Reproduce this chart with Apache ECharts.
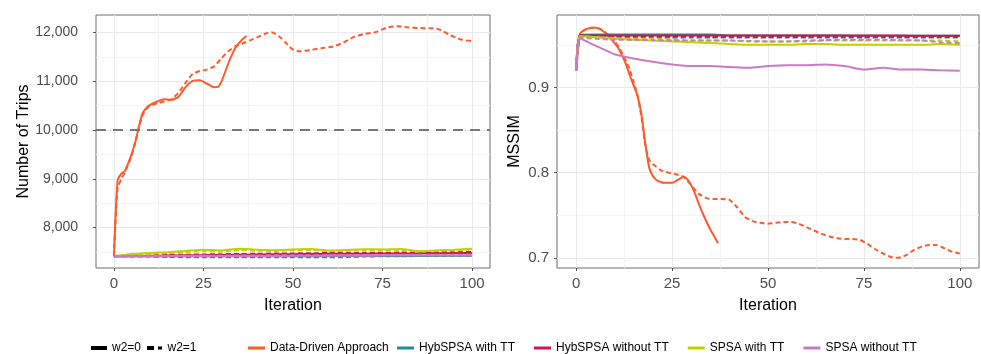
<!DOCTYPE html>
<html>
<head>
<meta charset="utf-8">
<script src="https://cdn.jsdelivr.net/npm/echarts@6/dist/echarts.min.js"></script>
<style>
  html, body { margin: 0; padding: 0; background: #fff; }
  #chart { width: 981px; height: 354px; }
</style>
</head>
<body>
<div id="chart"></div>
<script>
// ---- data ----
const methods = ['Data-Driven Approach', 'HybSPSA with TT', 'HybSPSA without TT', 'SPSA with TT', 'SPSA without TT'];
const methodColors = ['#FF5A2B', '#1B8F96', '#D0154F', '#BDD200', '#C97BC7'];

const xTicks = [0, 25, 50, 75, 100];
const xMinor = [12.5, 37.5, 62.5, 87.5];
const tripTicks = [8000, 9000, 10000, 11000, 12000];
const tripMinor = [7500, 8500, 9500, 10500, 11500];
const mssimTicks = [0.7, 0.8, 0.9];
const mssimMinor = [0.75, 0.85, 0.95];
const tripReference = 10000;

// Number of Trips, Data-Driven Approach
const ddTripIterSolid = [0, 1, 2, 3, 4, 5, 6, 7, 8, 9, 10, 12, 14, 16, 18, 20, 22, 24, 26, 28, 29, 30, 32, 34, 36, 37];
const ddTripSolid = [7412, 8950, 9100, 9155, 9320, 9520, 9760, 10080, 10340, 10450, 10510, 10580, 10630, 10620, 10680, 10880, 11010, 11020, 10950, 10880, 10885, 10990, 11380, 11700, 11870, 11930];
const ddTripIterDashed = [0, 1, 2, 3, 4, 5, 6, 7, 8, 9, 10, 12, 14, 16, 18, 20, 22, 24, 26, 28, 30, 32, 34, 36, 38, 40, 42, 44, 46, 48, 50, 52, 55, 58, 61, 64, 67, 70, 73, 76, 79, 82, 85, 88, 90, 92, 94, 97, 100];
const ddTripDashed = [7412, 8800, 8985, 9120, 9300, 9480, 9760, 10060, 10300, 10420, 10490, 10550, 10585, 10630, 10760, 10970, 11150, 11210, 11240, 11310, 11470, 11620, 11720, 11780, 11840, 11900, 11970, 12005, 11930, 11790, 11650, 11615, 11645, 11680, 11710, 11790, 11910, 11975, 12005, 12096, 12130, 12108, 12094, 12088, 12085, 12020, 11940, 11856, 11822];

// Number of Trips, other methods
const iterTrip = [0, 5, 10, 15, 20, 25, 30, 35, 40, 45, 50, 55, 60, 65, 70, 75, 80, 85, 90, 95, 100];
const hybTtTripSolid = [7412, 7411, 7410, 7410, 7410, 7410, 7410, 7410, 7411, 7412, 7412, 7413, 7414, 7415, 7416, 7417, 7418, 7418, 7419, 7420, 7420];
const hybTtTripDashed = [7412, 7408, 7404, 7398, 7392, 7390, 7390, 7390, 7390, 7390, 7390, 7390, 7390, 7392, 7405, 7410, 7412, 7414, 7416, 7418, 7420];
const hybNoTtTripSolid = [7412, 7415, 7420, 7425, 7430, 7434, 7438, 7442, 7446, 7450, 7454, 7458, 7460, 7462, 7464, 7466, 7468, 7470, 7472, 7476, 7480];
const hybNoTtTripDashed = [7412, 7420, 7428, 7436, 7442, 7448, 7454, 7458, 7462, 7466, 7470, 7474, 7476, 7478, 7482, 7484, 7486, 7488, 7490, 7494, 7500];
const spsaTtTripSolid = [7412, 7455, 7478, 7495, 7520, 7545, 7530, 7565, 7545, 7535, 7550, 7560, 7530, 7540, 7555, 7550, 7560, 7515, 7530, 7545, 7565];
const spsaTtTripDashed = [7412, 7440, 7462, 7478, 7495, 7515, 7510, 7535, 7525, 7520, 7535, 7540, 7515, 7525, 7540, 7535, 7545, 7510, 7525, 7535, 7550];
const spsaNoTtTripSolid = [7412, 7412, 7413, 7414, 7415, 7415, 7416, 7417, 7418, 7418, 7419, 7420, 7421, 7422, 7423, 7424, 7425, 7426, 7426, 7427, 7428];
const spsaNoTtTripDashed = [7412, 7414, 7416, 7418, 7420, 7422, 7424, 7426, 7428, 7430, 7431, 7432, 7434, 7436, 7437, 7438, 7440, 7441, 7442, 7443, 7445];

// MSSIM, Data-Driven Approach
const ddMssimIterSolid = [0, 1, 2, 3, 4, 5, 6, 7, 8, 9, 10, 11, 12, 13, 14, 15, 16, 17, 18, 19, 20, 21, 22, 23, 24, 25, 26, 27, 28, 29, 30, 31, 32, 33, 34, 35, 36, 37];
const ddMssimSolid = [0.920, 0.963, 0.967, 0.969, 0.970, 0.970, 0.969, 0.966, 0.962, 0.957, 0.952, 0.946, 0.937, 0.927, 0.914, 0.902, 0.890, 0.869, 0.835, 0.806, 0.796, 0.791, 0.789, 0.788, 0.788, 0.788, 0.790, 0.793, 0.795, 0.792, 0.785, 0.775, 0.763, 0.752, 0.742, 0.733, 0.725, 0.717];
const ddMssimIterDashed = [0, 1, 2, 3, 4, 5, 6, 7, 8, 9, 10, 11, 12, 13, 14, 15, 16, 17, 18, 19, 20, 22, 24, 26, 28, 30, 32, 34, 36, 38, 40, 42, 44, 46, 48, 50, 52, 54, 56, 58, 60, 62, 64, 66, 68, 70, 72, 74, 76, 78, 80, 82, 84, 86, 88, 90, 92, 94, 96, 98, 100];
const ddMssimDashed = [0.920, 0.963, 0.967, 0.969, 0.970, 0.970, 0.969, 0.967, 0.963, 0.959, 0.954, 0.948, 0.940, 0.931, 0.920, 0.906, 0.890, 0.866, 0.832, 0.815, 0.810, 0.803, 0.800, 0.798, 0.795, 0.785, 0.775, 0.770, 0.769, 0.769, 0.768, 0.759, 0.748, 0.743, 0.741, 0.740, 0.741, 0.742, 0.742, 0.740, 0.736, 0.732, 0.728, 0.725, 0.723, 0.722, 0.722, 0.721, 0.716, 0.710, 0.705, 0.701, 0.700, 0.703, 0.709, 0.713, 0.715, 0.715, 0.711, 0.707, 0.705];

// MSSIM, other methods
const iterMssim = [0, 1, 5, 10, 15, 20, 25, 30, 35, 40, 45, 50, 55, 60, 65, 70, 75, 80, 85, 90, 95, 100];
const hybTtMssimSolid = [0.920, 0.9615, 0.962, 0.962, 0.962, 0.962, 0.962, 0.962, 0.962, 0.961, 0.961, 0.961, 0.961, 0.961, 0.961, 0.9608, 0.9606, 0.9605, 0.9605, 0.9605, 0.9605, 0.9605];
const hybTtMssimDashed = [0.920, 0.961, 0.960, 0.9595, 0.959, 0.9588, 0.9585, 0.9585, 0.9585, 0.9585, 0.9585, 0.9585, 0.9585, 0.9585, 0.9585, 0.9585, 0.9585, 0.9585, 0.9585, 0.9585, 0.9585, 0.9585];
const hybNoTtMssimSolid = [0.920, 0.961, 0.961, 0.961, 0.961, 0.961, 0.961, 0.961, 0.961, 0.961, 0.961, 0.961, 0.961, 0.961, 0.961, 0.961, 0.961, 0.961, 0.9608, 0.9606, 0.9605, 0.9605];
const hybNoTtMssimDashed = [0.920, 0.9605, 0.960, 0.960, 0.9598, 0.9598, 0.9597, 0.9597, 0.9596, 0.9596, 0.9596, 0.9596, 0.9596, 0.9595, 0.9595, 0.9595, 0.9595, 0.9595, 0.9595, 0.9595, 0.9595, 0.9595];
const spsaTtMssimSolid = [0.920, 0.960, 0.959, 0.957, 0.956, 0.955, 0.954, 0.953, 0.952, 0.951, 0.950, 0.950, 0.950, 0.951, 0.951, 0.950, 0.950, 0.950, 0.950, 0.950, 0.951, 0.950];
const spsaTtMssimDashed = [0.920, 0.960, 0.959, 0.958, 0.957, 0.957, 0.956, 0.955, 0.955, 0.955, 0.954, 0.954, 0.954, 0.954, 0.955, 0.955, 0.955, 0.955, 0.955, 0.955, 0.955, 0.954];
const spsaNoTtMssimSolid = [0.920, 0.9575, 0.949, 0.939, 0.934, 0.930, 0.927, 0.925, 0.925, 0.924, 0.923, 0.925, 0.926, 0.926, 0.927, 0.925, 0.921, 0.923, 0.921, 0.921, 0.920, 0.9196];
const spsaNoTtMssimDashed = [0.920, 0.9585, 0.957, 0.956, 0.956, 0.9555, 0.955, 0.955, 0.955, 0.955, 0.9545, 0.954, 0.954, 0.955, 0.9555, 0.956, 0.956, 0.956, 0.9555, 0.955, 0.953, 0.952];

// ---- chart ----
const FONT = 'Liberation Sans, Arial, sans-serif';
const pairs = (xs, ys) => xs.map((x, i) => [x, ys[i]]);

function lineSeries(methodIdx, xs, ys, dashed, axisIdx) {
  return {
    name: methods[methodIdx],
    type: 'line',
    xAxisIndex: axisIdx,
    yAxisIndex: axisIdx,
    data: pairs(xs, ys),
    showSymbol: false,
    symbol: 'none',
    smooth: 0.2,
    color: methodColors[methodIdx],
    lineStyle: { width: 2, type: dashed ? [5, 3] : 'solid', color: methodColors[methodIdx] },
    silent: true,
    z: 3,
  };
}

function mainX(grid) {
  return {
    type: 'value', gridIndex: grid, min: -5, max: 105,
    name: 'Iteration', nameLocation: 'middle', nameGap: 30,
    nameTextStyle: { fontFamily: FONT, fontSize: 16, color: '#000' },
    axisLine: { show: false, onZero: false },
    axisTick: { show: true, length: 3, customValues: xTicks, lineStyle: { color: '#555' } },
    axisLabel: { customValues: xTicks, margin: 8, fontFamily: FONT, fontSize: 15, color: '#4d4d4d' },
    splitLine: { show: true, lineStyle: { color: '#e9e9e9', width: 1 } },
  };
}
function minorAxis(grid, min, max, values) {
  return {
    type: 'value', gridIndex: grid, min: min, max: max,
    axisLine: { show: false, onZero: false },
    axisTick: { show: false, customValues: values },
    axisLabel: { show: false, customValues: values },
    splitLine: { show: true, lineStyle: { color: '#f4f4f4', width: 1 } },
  };
}
function mainY(grid, min, max, values, name, nameGap, labelSize, margin, fmt) {
  return {
    type: 'value', gridIndex: grid, min: min, max: max,
    name: name, nameLocation: 'middle', nameGap: nameGap,
    nameTextStyle: { fontFamily: FONT, fontSize: 16, color: '#000' },
    axisLine: { show: false, onZero: false },
    axisTick: { show: true, length: 3, customValues: values, lineStyle: { color: '#555' } },
    axisLabel: { customValues: values, margin: margin, fontFamily: FONT, fontSize: labelSize, color: '#4d4d4d', formatter: fmt },
    splitLine: { show: true, lineStyle: { color: '#e9e9e9', width: 1 } },
  };
}

const tripSeries = [
  lineSeries(0, ddTripIterSolid, ddTripSolid, false, 0),
  lineSeries(0, ddTripIterDashed, ddTripDashed, true, 0),
  lineSeries(1, iterTrip, hybTtTripSolid, false, 0),
  lineSeries(1, iterTrip, hybTtTripDashed, true, 0),
  lineSeries(2, iterTrip, hybNoTtTripSolid, false, 0),
  lineSeries(2, iterTrip, hybNoTtTripDashed, true, 0),
  lineSeries(3, iterTrip, spsaTtTripSolid, false, 0),
  lineSeries(3, iterTrip, spsaTtTripDashed, true, 0),
  lineSeries(4, iterTrip, spsaNoTtTripSolid, false, 0),
  lineSeries(4, iterTrip, spsaNoTtTripDashed, true, 0),
];
tripSeries[0].markLine = {
  silent: true, symbol: 'none', label: { show: false },
  lineStyle: { color: '#777', type: [10, 7], width: 2 },
  data: [{ yAxis: tripReference }],
};

const mssimSeries = [
  lineSeries(0, ddMssimIterSolid, ddMssimSolid, false, 2),
  lineSeries(0, ddMssimIterDashed, ddMssimDashed, true, 2),
  lineSeries(1, iterMssim, hybTtMssimSolid, false, 2),
  lineSeries(1, iterMssim, hybTtMssimDashed, true, 2),
  lineSeries(2, iterMssim, hybNoTtMssimSolid, false, 2),
  lineSeries(2, iterMssim, hybNoTtMssimDashed, true, 2),
  lineSeries(3, iterMssim, spsaTtMssimSolid, false, 2),
  lineSeries(3, iterMssim, spsaTtMssimDashed, true, 2),
  lineSeries(4, iterMssim, spsaNoTtMssimSolid, false, 2),
  lineSeries(4, iterMssim, spsaNoTtMssimDashed, true, 2),
];

const linetypeKeys = [
  { name: 'w2=0', type: 'line', xAxisIndex: 0, yAxisIndex: 0, data: [], symbol: 'none', color: '#000' },
  { name: 'w2=1', type: 'line', xAxisIndex: 0, yAxisIndex: 0, data: [], symbol: 'none', color: '#000' },
];

const legendText = { fontFamily: FONT, fontSize: 12, color: '#000' };
const chart = echarts.init(document.getElementById('chart'), null, { renderer: 'canvas' });
chart.setOption({
  animation: false,
  backgroundColor: '#fff',
  grid: [
    { left: 96, right: 491, top: 15, bottom: 86, show: true, borderColor: '#6e6e6e', borderWidth: 1, backgroundColor: '#fff' },
    { left: 557, right: 2, top: 15, bottom: 86, show: true, borderColor: '#6e6e6e', borderWidth: 1, backgroundColor: '#fff' },
  ],
  xAxis: [
    mainX(0),
    minorAxis(0, -5, 105, xMinor),
    mainX(1),
    minorAxis(1, -5, 105, xMinor),
  ],
  yAxis: [
    mainY(0, 7170, 12360, tripTicks, 'Number of Trips', 60, 14, 18, v => v.toLocaleString('en-US')),
    minorAxis(0, 7170, 12360, tripMinor),
    mainY(1, 0.688, 0.985, mssimTicks, 'MSSIM', 34, 15, 8, v => v.toFixed(1)),
    minorAxis(1, 0.688, 0.985, mssimMinor),
  ],
  legend: [
    {
      data: [
        { name: 'w2=0', icon: 'path://M0,0H16V4H0Z' },
        { name: 'w2=1', icon: 'path://M0,0H7V4H0Z M11,0.5H15V3.5H11Z' },
      ],
      left: 86, top: 337, orient: 'horizontal',
      itemWidth: 16, itemHeight: 4, itemGap: 6, selectedMode: false,
      textStyle: legendText,
    },
    {
      data: [{ name: methods[0], icon: 'rect' }],
      left: 243, top: 337, orient: 'horizontal',
      itemWidth: 17, itemHeight: 3, selectedMode: false,
      textStyle: legendText,
    },
    {
      data: methods.slice(1).map(m => ({ name: m, icon: 'rect' })),
      left: 392, top: 337, orient: 'horizontal',
      itemWidth: 17, itemHeight: 3, itemGap: 19, selectedMode: false,
      textStyle: legendText,
    },
  ],
  series: [...tripSeries, ...mssimSeries, ...linetypeKeys],
});
</script>
</body>
</html>
